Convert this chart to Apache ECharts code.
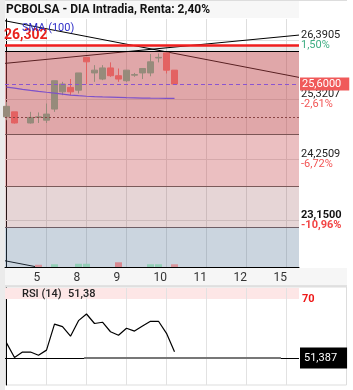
<!DOCTYPE html>
<html>
<head>
<meta charset="utf-8">
<script src="https://cdn.jsdelivr.net/npm/echarts@6/dist/echarts.min.js"></script>
<style>
html,body{margin:0;padding:0;background:#fff;}
#chart{width:353px;height:390px;}
</style>
</head>
<body>
<div id="chart"></div>
<script>
// candle index -> day gridlines / labels
var candleX = [0,1,2,3,4,5,6,7,8,9,10,11,12,13,14,15,16,17,18,19,20,21];
var opens  = [25.01,25.10,null,24.90,25.00,24.95,25.15,25.46,25.54,25.49,26.08,25.80,25.69,25.89,25.75,25.66,25.76,25.80,25.80,26.07,26.16,25.85];
var closes = [25.20,24.90,null,25.00,25.01,25.06,25.66,25.60,25.46,25.80,26.00,25.85,25.89,25.75,25.69,25.85,25.77,25.88,26.00,26.08,25.85,25.60];
var lows   = [24.95,24.89,null,24.89,24.90,24.90,25.10,25.40,25.40,25.43,25.60,25.64,25.67,25.73,25.64,25.64,25.73,25.69,25.74,25.99,25.79,25.60];
var highs  = [25.28,25.10,null,25.10,25.09,25.25,25.66,25.64,25.69,25.80,26.08,25.94,25.94,25.99,25.88,25.85,25.80,25.88,26.14,26.15,26.16,25.85];
var sma100 = [25.546,25.528,25.506,25.487,25.469,25.453,25.438,25.420,25.402,25.391,25.381,25.375,25.370,25.366,25.361,25.355,25.352,25.348,25.346,25.345,25.343,25.343];
var rsi14  = [56.2,51.6,53.3,53.3,52.3,53.9,62.1,61.3,58.3,63.2,65.3,62.3,62.7,59.7,58.6,60.8,59.9,61.5,63.0,63.0,59.2,53.4];

var volX      = [4,6,9,10,14,18,19,21];
var volValues = [0.45,0.55,0.65,0.65,0.95,0.55,0.55,0.55];
var volColors = ['#d9959c','#93cfb7','#93cfb7','#93cfb7','#d98890','#93cfb7','#93cfb7','#d9959c'];

var dayGridX   = [5,10,15,20,25,30,35];
var dayLabelX  = [3.375,8.375,13.375,18.375,23.375,28.375,33.375];
var dayLabels  = ['5','8','9','10','11','12','15'];

var levelValues = [26.3905,25.3207,24.2509,23.15];
var levelText   = ['26,3905','25,3207','24,2509','23,1500'];
var levelPct    = ['1,50%','-2,61%','-6,72%','-10,96%'];

var lastPrice = 25.6;
var resistance = 26.302;
var dottedLevel = 25.0;
var bandEdges = [26.302,26.194,24.70,23.765,23.028,22.31];
var bandColors = ['rgba(0,0,0,0.08)','rgba(190,68,73,0.47)','rgba(198,72,78,0.35)','rgba(155,87,91,0.25)','rgba(82,115,148,0.3)'];
var edgeColors = ['#000','#7b5555','#7b5a5a','#6e5e66'];

var trendDown    = [[-0.1875,26.738],[36.5625,25.720]];
var trendUp      = [[-0.1875,25.972],[36.5625,26.481]];
var trendChannel = [[-0.1875,22.422],[36.5625,21.404]];

var rsiLast = 51.387;
var rsiFlatRange = [9.7,34.3];

var xMin = -0.1875, xMax = 36.5625;

var candleData = [];
for (var i = 0; i < candleX.length; i++) {
    if (opens[i] == null) continue;
    candleData.push([candleX[i], opens[i], closes[i], lows[i], highs[i]]);
}
var smaData = candleX.map(function (x, i) { return [x, sma100[i]]; });
var rsiData = candleX.map(function (x, i) { return [x, rsi14[i]]; });
var volData = volX.map(function (x, i) {
    return {value: [x, volValues[i]], itemStyle: {color: volColors[i]}};
});

var gridLines = [];
dayGridX.forEach(function (x) { gridLines.push({xAxis: x}); });
levelValues.forEach(function (v) { gridLines.push({yAxis: v}); });

var bandAreas = [];
for (var b = 0; b < bandColors.length; b++) {
    bandAreas.push([{yAxis: bandEdges[b], itemStyle: {color: bandColors[b]}}, {yAxis: bandEdges[b + 1]}]);
}
var edgeLines = [];
for (var e = 0; e < edgeColors.length; e++) {
    edgeLines.push({yAxis: bandEdges[e + 1], lineStyle: {color: edgeColors[e], width: 1, type: 'solid'}});
}

var noSym = ['none', 'none'];

function trendSeries(data) {
    return {
        type: 'line', xAxisIndex: 0, yAxisIndex: 0, data: data, z: 2,
        symbol: 'none', lineStyle: {color: '#000', width: 1}, silent: true
    };
}

var myChart = echarts.init(document.getElementById('chart'));
var option = {
    animation: false,
    backgroundColor: '#fff',
    textStyle: {fontFamily: 'Roboto'},
    graphic: [
        {type: 'rect', shape: {x: 0, y: 0, width: 5, height: 390}, style: {fill: '#ebebeb'}, z: -1},
        {type: 'rect', shape: {x: 5, y: 0, width: 294, height: 18}, style: {fill: '#f7f7f7'}, z: -1},
        {type: 'rect', shape: {x: 5, y: 0, width: 342, height: 1}, style: {fill: '#dddddd'}, z: -1},
        {type: 'rect', shape: {x: 5, y: 268, width: 342, height: 17}, style: {fill: '#f6f6f6'}, z: -1},
        {type: 'rect', shape: {x: 5, y: 285, width: 342, height: 2}, style: {fill: '#e2e2e2'}, z: -1},
        {type: 'rect', shape: {x: 5.5, y: 287, width: 341, height: 98}, style: {fill: 'none', stroke: '#dddddd', lineWidth: 1}, z: -1},
        {type: 'text', x: 6, y: 10, z: 100, style: {text: 'PCBOLSA - DIA Intradia, Renta: 2,40%', font: 'bold 12px Roboto', fill: '#111', verticalAlign: 'middle'}},
        {type: 'text', x: 22, y: 28.5, z: 100, style: {text: 'SMA (100)', font: '11px Roboto', fill: '#2f2fc8', verticalAlign: 'middle'}},
        {type: 'text', x: 22, y: 294, z: 100, style: {text: 'RSI (14)', font: '500 11px Roboto', fill: '#222', verticalAlign: 'middle'}},
        {type: 'text', x: 68, y: 294, z: 100, style: {text: '51,38', font: '500 11px Roboto', fill: '#222', verticalAlign: 'middle'}}
    ],
    grid: [
        {left: 5, right: 54, top: 19, bottom: 123},
        {left: 5, right: 54, top: 288, bottom: 5}
    ],
    xAxis: [
        {
            type: 'value', gridIndex: 0, min: xMin, max: xMax,
            axisLine: {show: true, onZero: false, lineStyle: {color: '#000', width: 1}},
            axisTick: {show: false},
            splitLine: {show: false},
            axisLabel: {
                customValues: dayLabelX, align: 'left', margin: 5, fontSize: 12, color: '#333',
                formatter: function (v) {
                    for (var k = 0; k < dayLabelX.length; k++) {
                        if (Math.abs(dayLabelX[k] - v) < 1e-6) return dayLabels[k];
                    }
                    return '';
                }
            }
        },
        {
            type: 'value', gridIndex: 1, min: xMin, max: xMax,
            axisLine: {show: false}, axisTick: {show: false}, axisLabel: {show: false}, splitLine: {show: false}
        }
    ],
    yAxis: [
        {
            type: 'value', gridIndex: 0, position: 'right', min: 22.31, max: 26.77,
            axisLine: {show: true, lineStyle: {color: '#000', width: 1}},
            axisTick: {show: false},
            splitLine: {show: false},
            axisLabel: {
                customValues: levelValues, margin: 2,
                formatter: function (v) {
                    for (var k = 0; k < levelValues.length; k++) {
                        if (Math.abs(levelValues[k] - v) < 1e-6) {
                            var last = k === levelValues.length - 1;
                            var pStyle = k === 0 ? 'pg' : (last ? 'pb' : 'p');
                            return '{' + (last ? 'vb' : 'v') + '|' + levelText[k] + '}\n{' + pStyle + '|' + levelPct[k] + '}';
                        }
                    }
                    return '';
                },
                rich: {
                    v: {fontSize: 11, color: '#222', lineHeight: 10},
                    vb: {fontSize: 11, color: '#111', fontWeight: 'bold', lineHeight: 10},
                    p: {fontSize: 11, color: '#f25555', lineHeight: 10},
                    pb: {fontSize: 11, color: '#f24545', fontWeight: 'bold', lineHeight: 10},
                    pg: {fontSize: 11, color: '#3fae84', lineHeight: 10}
                }
            }
        },
        {
            type: 'value', gridIndex: 0, min: 0, max: 50, show: false
        },
        {
            type: 'value', gridIndex: 1, position: 'right', min: 42.9, max: 73.5,
            axisLine: {show: true, lineStyle: {color: '#000', width: 1}},
            axisTick: {show: false},
            splitLine: {show: false},
            axisLabel: {customValues: [70], margin: 3, fontSize: 11, fontWeight: 'bold', color: '#ee1a1a'}
        }
    ],
    series: [
        {
            // gridlines
            type: 'line', xAxisIndex: 0, yAxisIndex: 0, data: [], z: 1,
            markLine: {
                z: 1, silent: true, symbol: noSym, label: {show: false},
                lineStyle: {color: '#dedede', width: 1, type: 'solid'},
                data: gridLines
            }
        },
        trendSeries(trendDown),
        trendSeries(trendUp),
        trendSeries(trendChannel),
        {
            // zonas
            type: 'line', xAxisIndex: 0, yAxisIndex: 0, data: [], z: 3,
            markArea: {z: 3, silent: true, data: bandAreas},
            markLine: {z: 4, silent: true, symbol: noSym, label: {show: false}, data: edgeLines}
        },
        {
            type: 'candlestick', xAxisIndex: 0, yAxisIndex: 0, z: 5,
            data: candleData, encode: {x: 0, y: [1, 2, 3, 4]},
            barWidth: 7,
            itemStyle: {color: '#968b7b', color0: '#e36262', borderColor: '#968b7b', borderColor0: '#e36262', borderWidth: 1}
        },
        {
            type: 'bar', xAxisIndex: 0, yAxisIndex: 1, z: 5, barWidth: 7,
            data: volData
        },
        {
            type: 'line', xAxisIndex: 0, yAxisIndex: 0, z: 6,
            data: smaData, symbol: 'none',
            lineStyle: {color: '#7d52c9', width: 1.2},
            markLine: {
                z: 7, silent: true, symbol: noSym,
                data: [
                    {yAxis: resistance, lineStyle: {color: '#f01e1e', width: 2.5, type: 'solid'},
                        label: {show: true, position: 'insideStartTop', distance: [-1, 3], formatter: '26,302', color: '#e8231e', fontSize: 14, fontWeight: 'bold'}},
                    {yAxis: dottedLevel, lineStyle: {color: '#8a4545', width: 1, type: [2, 2]}, label: {show: false}},
                    {yAxis: lastPrice, lineStyle: {color: '#8a55d0', width: 1, type: [4, 3]},
                        label: {show: true, position: 'end', distance: 1, formatter: '25,6000', color: '#fff', fontSize: 11,
                            backgroundColor: '#f05a5a', padding: [1, 8, 1, 2], lineHeight: 11}}
                ]
            }
        },
        {
            // RSI
            type: 'line', xAxisIndex: 1, yAxisIndex: 2, z: 6,
            data: rsiData, symbol: 'none',
            lineStyle: {color: '#000', width: 1.2},
            markArea: {z: 1, silent: true, data: [[{yAxis: 70, itemStyle: {color: '#fde6e6'}}, {yAxis: 73.5}]]},
            markLine: {
                z: 5, silent: true, symbol: noSym,
                data: [
                    {yAxis: rsiLast, lineStyle: {color: '#000', width: 1, type: 'solid'},
                        label: {show: true, position: 'end', distance: 1, formatter: '51,387', color: '#fff', fontSize: 11,
                            backgroundColor: '#000', padding: [5, 10, 5, 4], lineHeight: 11}},
                    [{coord: [rsiFlatRange[0], rsiLast], lineStyle: {color: '#777', width: 2, type: 'solid'}, label: {show: false}},
                        {coord: [rsiFlatRange[1], rsiLast]}]
                ]
            }
        },
        {
            type: 'line', xAxisIndex: 1, yAxisIndex: 2, data: [], z: 2,
            markLine: {
                z: 2, silent: true, symbol: noSym, label: {show: false},
                lineStyle: {color: '#e2e2e2', width: 1, type: 'solid'},
                data: dayGridX.map(function (x) { return {xAxis: x}; })
            }
        }
    ]
};
myChart.setOption(option);
</script>
</body>
</html>
